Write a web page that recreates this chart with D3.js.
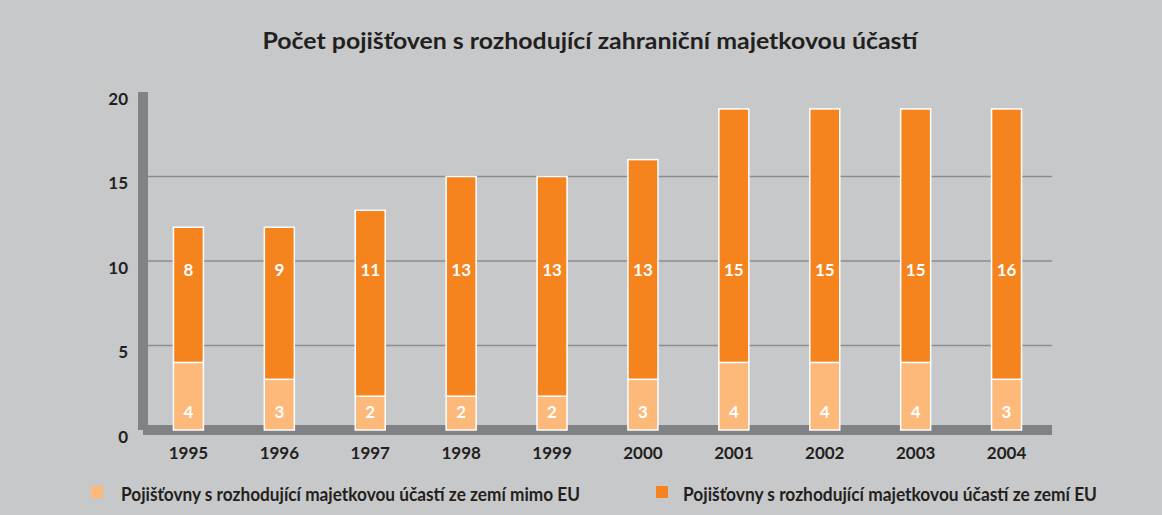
<!DOCTYPE html>
<html>
<head>
<meta charset="utf-8">
<script src="https://cdn.jsdelivr.net/npm/d3@7"></script>
<style>
  html, body { margin: 0; padding: 0; background: #c7c8ca; }
  svg { display: block; }
  text { font-family: Lato, "Open Sans", sans-serif; font-weight: 700; fill: #231f20; }
</style>
</head>
<body>
<svg id="chart" width="1162" height="515"></svg>
<script>
const years = ["1995","1996","1997","1998","1999","2000","2001","2002","2003","2004"];
const nonEU = [4, 3, 2, 2, 2, 3, 4, 4, 4, 3];
const EU = [8, 9, 11, 13, 13, 13, 15, 15, 15, 16];
const yTicks = [0, 5, 10, 15, 20];
const seriesNames = [
  "Pojišťovny s rozhodující majetkovou účastí ze zemí mimo EU",
  "Pojišťovny s rozhodující majetkovou účastí ze zemí EU"
];
const titleText = "Počet pojišťoven s rozhodující zahraniční majetkovou účastí";

const colors = { nonEU: "#fdb97a", EU: "#f5841f", wall: "#808285", grid: "#8b8c8e" };

const svg = d3.select("#chart");
svg.append("rect").attr("width", 1162).attr("height", 515).attr("fill", "#c7c8ca");

const x = d3.scaleBand().domain(years).range([143, 1052]).paddingInner(0.67).paddingOuter(0.335);
const y = d3.scaleLinear().domain([0, 20]).range([430, 92]);

// title
svg.append("text").attr("x", 590).attr("y", 49).attr("text-anchor", "middle")
  .style("font-size", "22.5px").attr("textLength", 655).attr("lengthAdjust", "spacingAndGlyphs")
  .text(titleText);

// gridlines
svg.append("g").selectAll("line").data(yTicks.filter(v => v > 0 && v < 20)).join("line")
  .attr("x1", 148).attr("x2", 1052).attr("y1", d => y(d)).attr("y2", d => y(d))
  .attr("stroke", colors.grid).attr("stroke-width", 1.5);

// wall and floor
svg.append("rect").attr("x", 138).attr("y", y(20)).attr("width", 10).attr("height", y(0) - y(20))
  .attr("fill", colors.wall);
svg.append("rect").attr("x", 143).attr("y", y(0) - 5).attr("width", 1052 - 143).attr("height", 10)
  .attr("fill", colors.wall);

// y axis labels
const yAxis = d3.axisLeft(y).tickValues(yTicks).tickSize(0).tickPadding(0);
const gy = svg.append("g").attr("transform", "translate(128,0)").call(yAxis);
gy.select(".domain").remove();
gy.selectAll("text").attr("dy", "0.72em").style("font-size", "17px").attr("fill", "#231f20")
  .style("font-family", "Lato, sans-serif").style("font-weight", 700);

// x axis labels
const xAxis = d3.axisBottom(x).tickSize(0).tickPadding(16.5);
const gx = svg.append("g").attr("transform", `translate(0,${y(0)})`).call(xAxis);
gx.select(".domain").remove();
gx.selectAll("text").style("font-size", "17px").attr("fill", "#231f20")
  .style("font-family", "Lato, sans-serif").style("font-weight", 700);

// bars
const data = years.map((yr, i) => ({ year: yr, nonEU: nonEU[i], EU: EU[i] }));
const stack = d3.stack().keys(["nonEU", "EU"])(data);
const gBars = svg.append("g");
stack.forEach(layer => {
  gBars.append("g").selectAll("rect").data(layer).join("rect")
    .attr("x", d => x(d.data.year))
    .attr("width", x.bandwidth())
    .attr("y", d => y(d[1]))
    .attr("height", d => y(d[0]) - y(d[1]))
    .attr("fill", colors[layer.key])
    .attr("stroke", "#ffffff").attr("stroke-width", 1.5);
});

// value labels
const labelLevel = { nonEU: 1.05, EU: 9.5 };
stack.forEach(layer => {
  svg.append("g").selectAll("text").data(layer).join("text")
    .attr("x", d => x(d.data.year) + x.bandwidth() / 2)
    .attr("y", y(labelLevel[layer.key]))
    .attr("dy", "0.36em")
    .attr("text-anchor", "middle")
    .style("font-size", "17px").style("fill", "#ffffff")
    .text(d => d.data[layer.key]);
});

// legend
const legendPos = [{ sx: 91, tx: 121, w: 459 }, { sx: 656, tx: 683, w: 414 }];
["nonEU", "EU"].forEach((k, i) => {
  const p = legendPos[i];
  svg.append("rect").attr("x", p.sx).attr("y", 486).attr("width", 12).attr("height", 12)
    .attr("fill", colors[k]);
  svg.append("text").attr("x", p.tx).attr("y", 501)
    .style("font-size", "18px").attr("textLength", p.w).attr("lengthAdjust", "spacingAndGlyphs")
    .text(seriesNames[i]);
});
</script>
</body>
</html>
